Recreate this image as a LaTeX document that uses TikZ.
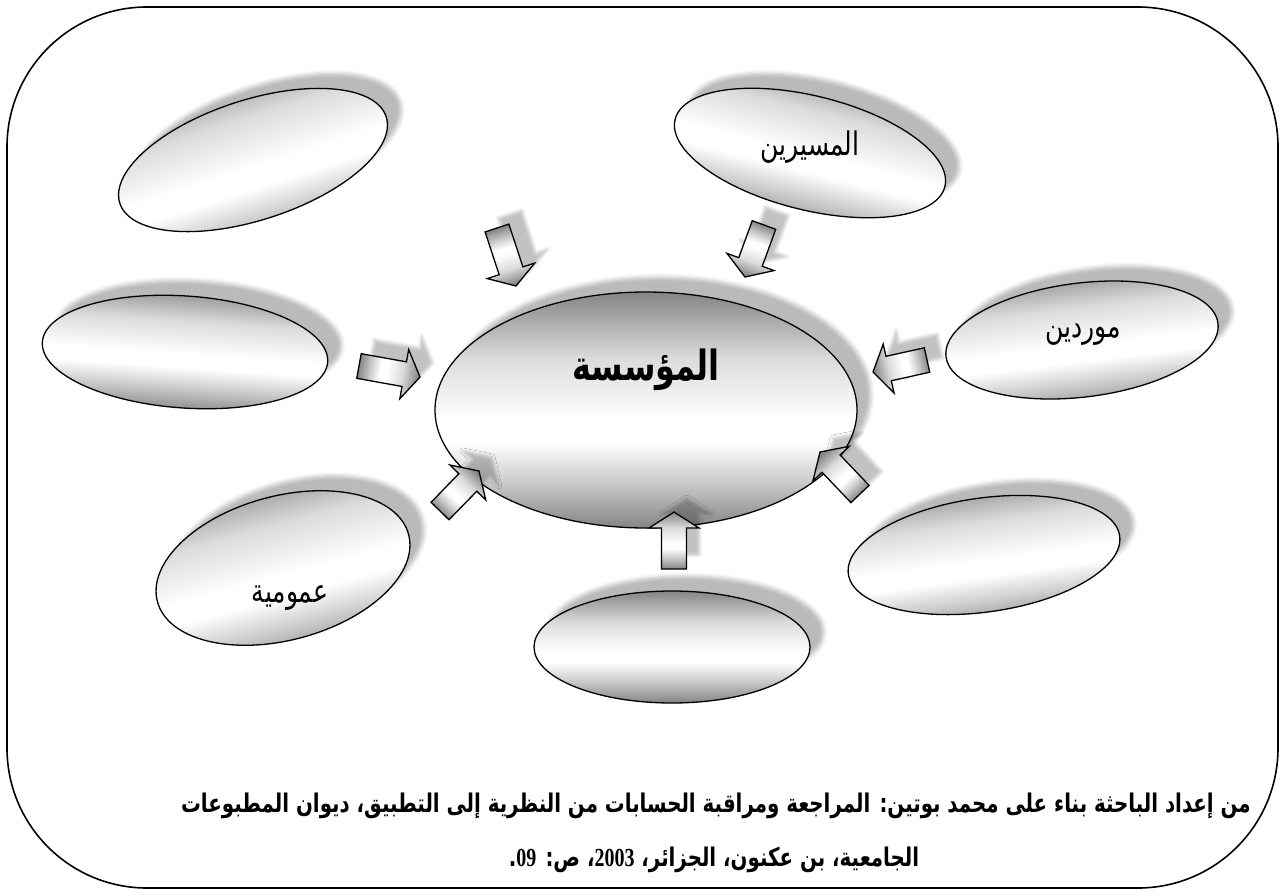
\documentclass[tikz,border=0pt]{standalone}
\usepackage{fontspec}
\usepackage{graphicx}
\usetikzlibrary{shapes.geometric,shadows.blur,calc}
\TeXXeTstate=1
\newfontfamily\arabicfont[Script=Arabic]{DejaVu Sans}
\newfontfamily\latinserif{Liberation Serif}

% grey-white-grey fill used by the ovals and the block arrows
\definecolor{shDark}{gray}{0.52}
\definecolor{shMid}{gray}{0.80}
\definecolor{shLight}{gray}{0.86}
\pgfdeclareverticalshading{ovalshade}{100bp}{%
  color(0bp)=(shDark); color(25bp)=(shDark); color(35bp)=(shMid);
  color(43bp)=(white); color(48bp)=(white); color(61bp)=(shLight);
  color(75bp)=(shDark); color(100bp)=(shDark)}

% Arabic text set a little taller than the font's own proportions
\newcommand\tallar[1]{\scalebox{1}[1.3]{#1}}
% bold serif figures inside the Arabic source line
\newcommand\srcnum[1]{\beginL{\latinserif\bfseries\fontsize{20}{24}\selectfont #1}\endL}

\tikzset{
  oval/.style={ellipse, draw=black, line width=1.3pt, shade, shading=ovalshade,
    inner sep=0pt,
    blur shadow={shadow xshift=14pt, shadow yshift=15pt,
      shadow blur radius=4pt, shadow opacity=27}},
  lbl/.style={font=\arabicfont\fontsize{25}{30}\selectfont, inner sep=0pt},
  hub/.style={font=\arabicfont\bfseries\fontsize{32}{38}\selectfont, inner sep=0pt},
  srcline/.style={font=\arabicfont\bfseries\fontsize{19.8}{24}\selectfont, inner sep=0pt},
  arrowbody/.style={draw=black, line width=1.3pt, line join=miter, shade, shading=ovalshade,
    blur shadow={shadow xshift=13pt, shadow yshift=14pt,
      shadow blur radius=3pt, shadow opacity=24}},
  frame/.style={draw=black, line width=1.6pt, rounded corners=140pt}
}

% block arrow from the named tail point #1 to the named tip point #2;
% #3 is the shading angle (arrow direction minus 90 degrees)
\newcommand\blockarrow[3]{%
  \coordinate (#1-hb) at ($(#2)!16pt!(#1)$);
  \path[arrowbody, shading angle=#3]
    ($(#1)!12.5pt!90:(#2)$) -- ($(#1-hb)!12.5pt!90:(#2)$) --
    ($(#1-hb)!25pt!90:(#2)$) -- (#2) --
    ($(#1-hb)!25pt!-90:(#2)$) -- ($(#1-hb)!12.5pt!-90:(#2)$) --
    ($(#1)!12.5pt!-90:(#2)$) -- cycle;
}

\begin{document}
\begin{tikzpicture}[x=1pt, y=-1pt]
\useasboundingbox (0,0) rectangle (1285,895);

% outer rounded frame
\draw[frame] (7,7) rectangle (1278,888);

% ovals
\node[oval, minimum width=280pt, minimum height=120pt, rotate=18, shading angle=18] (ovTL) at (253,160) {};
\node[oval, minimum width=278pt, minimum height=114pt, rotate=-14, shading angle=-14] (ovTR) at (810,153) {};
\node[oval, minimum width=286pt, minimum height=112pt, rotate=-4, shading angle=-4] (ovL) at (185,352) {};
\node[oval, minimum width=274pt, minimum height=114pt, rotate=7, shading angle=7] (ovR) at (1082,340) {};
\node[oval, minimum width=260pt, minimum height=144pt, rotate=15, shading angle=15] (ovBL) at (283,568) {};
\node[oval, minimum width=276pt, minimum height=112pt] (ovB) at (672,647) {};
\node[oval, minimum width=274pt, minimum height=114pt, rotate=8, shading angle=8] (ovBR) at (984,555) {};
\node[oval, minimum width=422pt, minimum height=236pt] (ovC) at (646,410) {};

% oval captions
\node[hub] (tC) at (646,370) {\tallar{\beginR المؤسسة\endR}};
\node[lbl] (tTR) at (810,147) {\tallar{\beginR المسيرين\endR}};
\node[lbl] (tR) at (1083,335) {\tallar{\beginR موردين\endR}};
\node[lbl] (tBL) at (290,598) {\tallar{\beginR عمومية\endR}};

% block arrows pointing towards the central oval
\coordinate (a1) at (497,228); \coordinate (a1t) at (516,286);
\coordinate (a2) at (764,225); \coordinate (a2t) at (745,277);
\coordinate (a3) at (927,360); \coordinate (a3t) at (873,372);
\coordinate (a4) at (359,366); \coordinate (a4t) at (420,377);
\coordinate (a5) at (440,511); \coordinate (a5t) at (479,471);
\coordinate (a6) at (674,569); \coordinate (a6t) at (674,512);
\coordinate (a7) at (860,494); \coordinate (a7t) at (820,452);
\blockarrow{a1}{a1t}{-162}
\blockarrow{a2}{a2t}{160}
\blockarrow{a3}{a3t}{102}
\blockarrow{a4}{a4t}{-100}
\blockarrow{a5}{a5t}{-44}
\blockarrow{a6}{a6t}{0}
\blockarrow{a7}{a7t}{44}

% source lines
\node[srcline] (src1) at (716,806) {\tallar{\beginR من إعداد الباحثة بناء على محمد بوتين: المراجعة ومراقبة الحسابات من النظرية إلى التطبيق، ديوان المطبوعات\endR}};
\node[srcline] (src2) at (714,860) {\tallar{\beginR الجامعية، بن عكنون، الجزائر، \srcnum{2003}، ص: \srcnum{09}.\endR}};
\end{tikzpicture}
\end{document}
